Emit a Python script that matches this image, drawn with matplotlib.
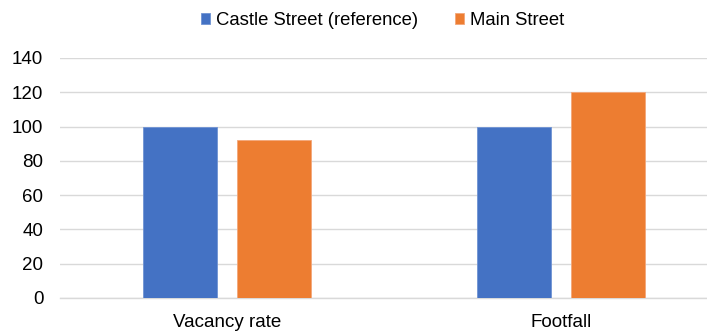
import matplotlib
matplotlib.use("Agg")
import matplotlib.pyplot as plt
import numpy as np

categories = ["Vacancy rate", "Footfall"]
series_names = ["Castle Street (reference)", "Main Street"]
castle_values = [100, 100]
main_values = [92, 120]
y_ticks = [0, 20, 40, 60, 80, 100, 120, 140]
colors = ["#4472C4", "#ED7D31"]

plt.rcParams['font.family'] = ['Liberation Sans', 'DejaVu Sans']

W, H = 707, 334
fig = plt.figure(figsize=(W / 100, H / 100), dpi=100)
ax = fig.add_axes([60 / W, 36 / H, (707 - 60) / W, (298 - 58) / H])

x = np.arange(len(categories))
bw = 0.222
off = 0.141
ax.bar(x - off, castle_values, width=bw, color=colors[0], label=series_names[0], zorder=3,
       edgecolor="#6f93d3", linewidth=0.6)
ax.bar(x + off, main_values, width=bw, color=colors[1], label=series_names[1], zorder=3,
       edgecolor="#f3a77a", linewidth=0.6)

ax.set_xlim(-0.5, -0.5 + 647 / 334)
ax.set_ylim(0, 140)
ax.set_yticks(y_ticks)
ax.set_xticks(x)
ax.set_xticklabels(categories)
ax.tick_params(axis='both', length=0, labelsize=13.5, colors="#000000")
ax.tick_params(axis='y', pad=12)
ax.tick_params(axis='x', pad=11.5)
ax.yaxis.grid(True, color="#d9d9d9", linewidth=1.0, zorder=0)
for s in ["top", "right", "left"]:
    ax.spines[s].set_visible(False)
ax.spines["bottom"].set_color("#d9d9d9")
ax.spines["bottom"].set_linewidth(1.0)

fig.legend(loc="upper center", bbox_to_anchor=(382.5 / W, 1.0), ncol=2, frameon=False,
           fontsize=13.3, handlelength=0.5, handleheight=0.5, handletextpad=0.3,
           columnspacing=2.0, borderaxespad=0.25)

fig.savefig("out.png", dpi=100)
